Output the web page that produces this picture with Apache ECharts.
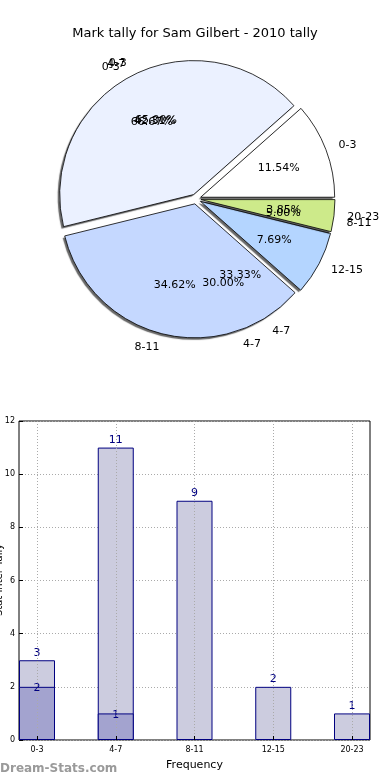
<!DOCTYPE html>
<html>
<head>
<meta charset="utf-8">
<script src="https://cdn.jsdelivr.net/npm/echarts@6/dist/echarts.min.js"></script>
<style>
  html, body { margin: 0; padding: 0; background: #fff; }
  #chart { width: 390px; height: 780px; }
</style>
</head>
<body>
<div id="chart"></div>
<script>
// ---- data ----
const categories = ['0-3', '4-7', '8-11', '12-15', '20-23'];
const tally2010 = [3, 11, 9, 2, 1];          // light bars / main pie
const tallyOverlay = [2, 1, 0, 0, 0];        // dark bars / second pie
const pie3Names = ['0-3', '4-7', '8-11'];
const pie3Values = [13, 6, 1];               // third overlaid pie (65% / 30% / 5%)
const yMin = 0, yMax = 12, yStep = 2;
const yAxisTitle = 'Stat Inter Tally';

// ---- styles ----
const FONT = 'DejaVu Sans';
const R = 134;
const CENTER = [196, 199];
const EXPLODE = 5;
const pieColors = ['#ffffff', '#ebf1ff', '#c5d8ff', '#b4d5ff', '#cdea8a'];

function sum(a) { return a.reduce((s, v) => s + v, 0); }

function pieData(names, values, colors) {
  const out = [];
  names.forEach((n, i) => {
    if (values[i] > 0) {
      out.push({
        name: n, value: values[i], selected: true,
        itemStyle: { color: colors ? colors[i] : 'rgba(0,0,0,0)' }
      });
    }
  });
  return out;
}

function basePie(extra) {
  return Object.assign({
    type: 'pie',
    center: CENTER,
    startAngle: 0,
    clockwise: false,
    selectedMode: 'multiple',
    selectedOffset: EXPLODE,
    avoidLabelOverlap: false,
    labelLayout: { hideOverlap: false },
    silent: true,
    animation: false,
    emphasis: { scale: false }
  }, extra);
}

function nameLabelPie(names, values) {
  return basePie({
    radius: [0, R],
    data: pieData(names, values, null),
    itemStyle: { color: 'rgba(0,0,0,0)', borderWidth: 0 },
    select: { itemStyle: { color: 'rgba(0,0,0,0)', borderWidth: 0 } },
    label: { show: true, position: 'outside', formatter: '{b}', fontSize: 11, color: '#000', fontFamily: FONT, distanceToLabelLine: 0 },
    labelLine: { show: false, length: 0.1 * R, length2: 0 }
  });
}

function pctLabelPie(names, values) {
  const total = sum(values);
  return basePie({
    radius: [0, 1.2 * R],
    data: pieData(names, values, null),
    itemStyle: { color: 'rgba(0,0,0,0)', borderWidth: 0 },
    select: { itemStyle: { color: 'rgba(0,0,0,0)', borderWidth: 0 } },
    label: {
      show: true, position: 'inside', fontSize: 11, color: '#000', fontFamily: FONT, rotate: 0,
      formatter: p => (p.value / total * 100).toFixed(2) + '%'
    },
    labelLine: { show: false }
  });
}

const chart = echarts.init(document.getElementById('chart'), null, { renderer: 'canvas' });

const option = {
  animation: false,
  textStyle: { fontFamily: FONT },
  title: {
    text: 'Mark tally for Sam Gilbert - 2010 tally',
    left: 'center',
    top: 22,
    textStyle: { fontSize: 13, fontWeight: 'normal', color: '#000', fontFamily: FONT }
  },
  graphic: [
    {
      type: 'text', left: 0, top: 763,
      style: { text: 'Dream-Stats.com', font: 'bold 12px "DejaVu Sans"', fill: '#9a9a9a' }
    },
    {
      type: 'text', x: 4, y: 580, rotation: Math.PI / 2,
      style: { text: yAxisTitle, font: '10px "DejaVu Sans"', fill: '#000', textAlign: 'center', textVerticalAlign: 'bottom' }
    }
  ],
  grid: [
    { left: 19, top: 421, width: 351, height: 319, show: true, borderColor: '#000', borderWidth: 1,
      backgroundColor: 'rgba(0,0,0,0)', containLabel: false, outerBoundsMode: 'none' },
    { left: 37, top: 421, width: 315, height: 319, containLabel: false, outerBoundsMode: 'none' }
  ],
  xAxis: [
    { gridIndex: 0, type: 'category', data: categories, show: false },
    {
      gridIndex: 1, type: 'category', data: categories, boundaryGap: false, z: 5,
      axisLine: { show: false },
      axisTick: { show: true, inside: true, length: 4, lineStyle: { color: '#000' } },
      axisLabel: { fontSize: 8, color: '#000', margin: 6, fontFamily: FONT },
      splitLine: { show: true, lineStyle: { color: '#aaaaaa', type: [1, 2], width: 1 } },
      name: 'Frequency', nameLocation: 'middle', nameGap: 20,
      nameTextStyle: { fontSize: 11, color: '#000', fontFamily: FONT }
    }
  ],
  yAxis: [
    {
      gridIndex: 0, type: 'value', min: yMin, max: yMax, interval: yStep,
      axisLine: { show: false },
      axisTick: { show: true, inside: true, length: 4, lineStyle: { color: '#000' } },
      axisLabel: { fontSize: 8, color: '#000', margin: 4, fontFamily: FONT },
      splitLine: { show: true, lineStyle: { color: '#aaaaaa', type: [1, 2], width: 1 } }
    },
    { gridIndex: 1, type: 'value', min: yMin, max: yMax, interval: yStep, show: false }
  ],
  series: [
    // main pie: fills with drop shadow
    basePie({
      radius: [0, R],
      data: pieData(categories, tally2010, pieColors),
      itemStyle: {
        borderWidth: 0,
        shadowColor: 'rgba(0,0,0,0.6)', shadowOffsetX: -2, shadowOffsetY: 2, shadowBlur: 1
      },
      select: { itemStyle: { borderWidth: 0 } },
      label: { show: false },
      labelLine: { show: false }
    }),
    // main pie: outlines + category labels
    basePie({
      radius: [0, R],
      data: pieData(categories, tally2010, null),
      itemStyle: { color: 'rgba(0,0,0,0)', borderColor: '#000', borderWidth: 0.8 },
      select: { itemStyle: { color: 'rgba(0,0,0,0)', borderColor: '#000', borderWidth: 0.8 } },
      label: { show: true, position: 'outside', formatter: '{b}', fontSize: 11, color: '#000', fontFamily: FONT, distanceToLabelLine: 0 },
      labelLine: { show: false, length: 0.1 * R, length2: 0 }
    }),
    pctLabelPie(categories, tally2010),
    nameLabelPie(categories, tallyOverlay),
    pctLabelPie(categories, tallyOverlay),
    nameLabelPie(pie3Names, pie3Values),
    pctLabelPie(pie3Names, pie3Values),
    // bars
    {
      type: 'bar', xAxisIndex: 1, yAxisIndex: 1, data: tally2010,
      barWidth: 36, barGap: '-100%', clip: false, silent: true,
      itemStyle: { color: '#ccccdf', borderColor: '#000080', borderWidth: 1 },
      label: { show: true, position: 'top', distance: 2, color: '#000080', fontSize: 11, fontFamily: FONT }
    },
    {
      type: 'bar', xAxisIndex: 1, yAxisIndex: 1,
      data: tallyOverlay.map(v => v > 0 ? v : '-'),
      barWidth: 36, barGap: '-100%', clip: false, silent: true,
      itemStyle: { color: '#a3a3cf', borderColor: '#000080', borderWidth: 1 },
      label: { show: true, position: 'top', distance: -7, color: '#000080', fontSize: 11, fontFamily: FONT }
    }
  ]
};

chart.setOption(option);
</script>
</body>
</html>
